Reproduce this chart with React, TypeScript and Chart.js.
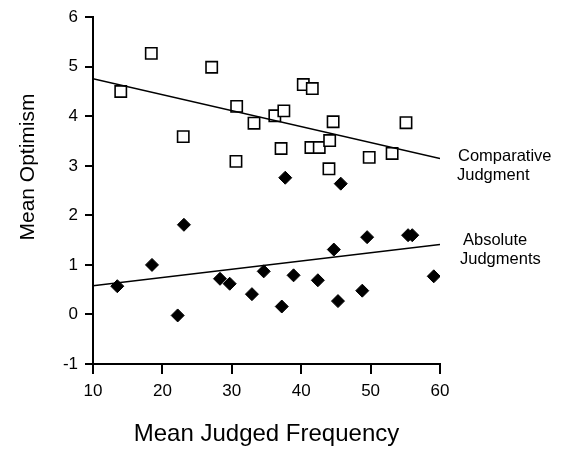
import React, { useEffect, useRef } from "react";
import { Chart, registerables } from "chart.js";

Chart.register(...registerables);

const comparativeX = [14.0, 18.4, 23.0, 27.1, 30.7, 30.6, 33.2, 36.2, 37.5, 37.1, 40.3, 41.6, 41.4, 42.6, 44.1, 44.6, 44.0, 49.8, 53.1, 55.1];
const comparativeY = [4.5, 5.27, 3.59, 4.99, 4.2, 3.09, 3.86, 4.01, 4.11, 3.35, 4.64, 4.56, 3.37, 3.37, 3.51, 3.89, 2.94, 3.17, 3.25, 3.87];
const absoluteX = [13.5, 18.5, 22.2, 23.1, 28.3, 29.7, 32.9, 34.6, 37.2, 37.7, 38.9, 42.4, 44.7, 45.3, 45.7, 48.8, 49.5, 55.4, 56.0, 59.1];
const absoluteY = [0.57, 1.0, -0.02, 1.81, 0.72, 0.62, 0.41, 0.87, 0.16, 2.76, 0.79, 0.69, 1.31, 0.27, 2.64, 0.48, 1.56, 1.6, 1.6, 0.77];
const fitX = [10, 60];
const comparativeFitY = [4.76, 3.15];
const absoluteFitY = [0.58, 1.41];
const comparativeLabel = ["Comparative", "Judgment"];
const absoluteLabel = ["Absolute", "Judgments"];
const xTitle = "Mean Judged Frequency";
const yTitle = "Mean Optimism";

const FONT = "'Liberation Sans', Arial, Helvetica, sans-serif";

const zip = (xs: number[], ys: number[]) => xs.map((x, i) => ({ x, y: ys[i] }));

const textPlugin = {
  id: "annotTexts",
  afterDraw(chart: any) {
    const ctx = chart.ctx;
    const xs = chart.scales.x;
    const ys = chart.scales.y;
    ctx.save();
    ctx.fillStyle = "#000";
    ctx.font = `16.5px ${FONT}`;
    ctx.textAlign = "left";
    ctx.textBaseline = "alphabetic";
    const right = xs.getPixelForValue(60);
    const cY = ys.getPixelForValue(comparativeFitY[1]);
    ctx.fillText(comparativeLabel[0], right + 18, cY + 3);
    ctx.fillText(comparativeLabel[1], right + 17, cY + 22);
    const aY = ys.getPixelForValue(absoluteFitY[1]);
    ctx.fillText(absoluteLabel[0], right + 23, aY);
    ctx.fillText(absoluteLabel[1], right + 20, aY + 19);
    // y axis title
    ctx.font = `21px ${FONT}`;
    ctx.textAlign = "center";
    ctx.textBaseline = "middle";
    ctx.translate(28, 167);
    ctx.rotate(-Math.PI / 2);
    ctx.fillText(yTitle, 0, 0);
    ctx.restore();
  },
};

export default function App() {
  const ref = useRef<HTMLCanvasElement | null>(null);
  useEffect(() => {
    if (!ref.current) return;
    const chart = new Chart(ref.current, {
      type: "scatter",
      data: {
        datasets: [
          {
            label: "Comparative fit",
            data: zip(fitX, comparativeFitY),
            showLine: true,
            borderColor: "#000",
            borderWidth: 1.5,
            pointRadius: 0,
            fill: false,
          },
          {
            label: "Absolute fit",
            data: zip(fitX, absoluteFitY),
            showLine: true,
            borderColor: "#000",
            borderWidth: 1.5,
            pointRadius: 0,
            fill: false,
          },
          {
            label: "Comparative Judgment",
            data: zip(comparativeX, comparativeY),
            pointStyle: "rect",
            pointRadius: 8,
            backgroundColor: "#fff",
            borderColor: "#000",
            borderWidth: 1.6,
          },
          {
            label: "Absolute Judgments",
            data: zip(absoluteX, absoluteY),
            pointStyle: "rectRot",
            pointRadius: 6.5,
            backgroundColor: "#000",
            borderColor: "#000",
            borderWidth: 1,
          },
        ],
      },
      options: {
        animation: false,
        responsive: true,
        maintainAspectRatio: false,
        layout: { padding: { top: 17, right: 128, left: 0, bottom: 0 } },
        plugins: { legend: { display: false }, tooltip: { enabled: false } },
        scales: {
          x: {
            type: "linear",
            min: 10,
            max: 60,
            ticks: { stepSize: 10, color: "#000", font: { family: FONT, size: 17 }, padding: 7 },
            grid: { display: true, drawOnChartArea: false, drawTicks: true, tickLength: 10, color: "#000", lineWidth: 2 },
            border: { display: true, color: "#000", width: 2 },
            title: { display: true, text: xTitle, color: "#000", font: { family: FONT, size: 24 }, padding: { top: 0, bottom: 0 } },
            afterFit: (s: any) => {
              s.height = 85;
            },
          },
          y: {
            type: "linear",
            min: -1,
            max: 6,
            ticks: { stepSize: 1, color: "#000", font: { family: FONT, size: 17 }, padding: 7 },
            grid: { display: true, drawOnChartArea: false, drawTicks: true, tickLength: 8, color: "#000", lineWidth: 2 },
            border: { display: true, color: "#000", width: 2 },
            afterFit: (s: any) => {
              s.width = 93;
            },
          },
        },
      },
      plugins: [textPlugin],
    });
    return () => chart.destroy();
  }, []);
  return (
    <div style={{ position: "fixed", left: 0, top: 0, width: 568, height: 449, background: "#fff" }}>
      <canvas ref={ref} />
    </div>
  );
}
